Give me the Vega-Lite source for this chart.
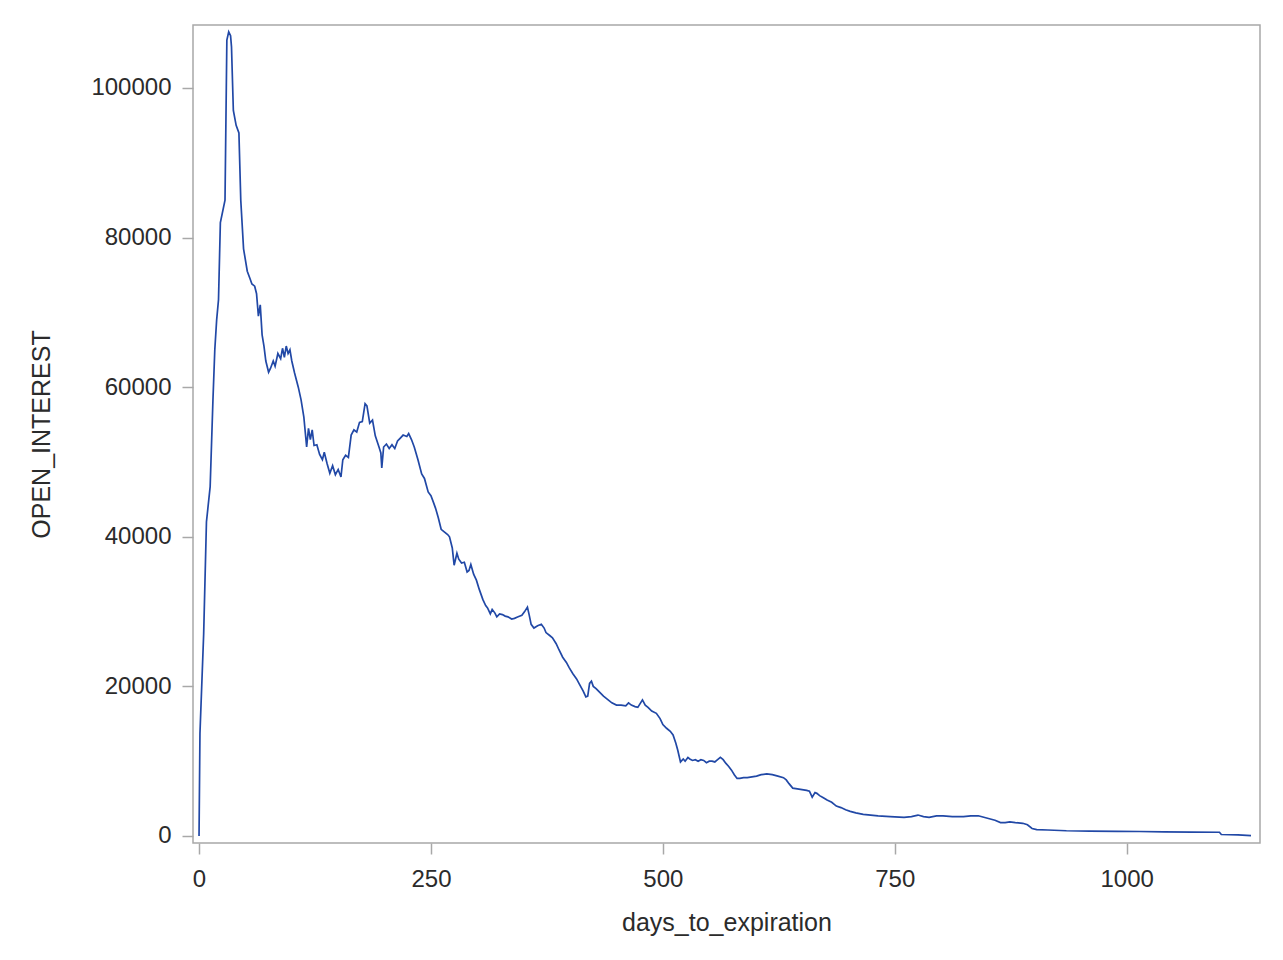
{
  "$schema": "https://vega.github.io/schema/vega-lite/v6.json",
  "autosize": "none",
  "width": 1067,
  "height": 818,
  "padding": {"left": 193, "top": 25, "right": 23, "bottom": 117},
  "background": "white",
  "config": {
    "view": {"stroke": "#a8a8a8", "strokeWidth": 1.5},
    "axis": {"grid": false, "domain": false, "tickColor": "#a8a8a8", "tickSize": 11, "tickWidth": 1.5, "labelFont": "Liberation Sans", "titleFont": "Liberation Sans", "labelColor": "#2b2b2b", "titleColor": "#2b2b2b", "labelFontSize": 24, "titleFontSize": 25, "titleFontWeight": "normal", "format": "d"}
  },
  "data": {"values": [
    {"d":0,"v":0},{"d":1,"v":13700},{"d":5,"v":27000},{"d":8,"v":42000},{"d":12,"v":46700},{"d":15,"v":58300},{"d":17,"v":65000},{"d":19,"v":69000},{"d":21,"v":71700},{"d":23,"v":82000},{"d":28,"v":85000},{"d":30,"v":106400},{"d":32,"v":107500},{"d":34,"v":107000},{"d":35,"v":105500},{"d":37,"v":97000},{"d":40,"v":95000},{"d":43,"v":94000},{"d":45,"v":85000},{"d":48,"v":78500},{"d":52,"v":75500},{"d":55,"v":74500},{"d":57,"v":73800},{"d":60,"v":73500},{"d":62,"v":72500},{"d":64,"v":69500},{"d":66,"v":71000},{"d":68,"v":67000},{"d":70,"v":65500},{"d":72,"v":63500},{"d":75,"v":62000},{"d":77,"v":62500},{"d":80,"v":63500},{"d":82,"v":62800},{"d":85,"v":64500},{"d":88,"v":63800},{"d":90,"v":65200},{"d":92,"v":64000},{"d":94,"v":65500},{"d":96,"v":64500},{"d":98,"v":65000},{"d":100,"v":63500},{"d":103,"v":61900},{"d":107,"v":60000},{"d":110,"v":58300},{"d":113,"v":56000},{"d":116,"v":52000},{"d":118,"v":54500},{"d":120,"v":53000},{"d":122,"v":54300},{"d":124,"v":52200},{"d":127,"v":52300},{"d":130,"v":51000},{"d":133,"v":50300},{"d":135,"v":51300},{"d":138,"v":49800},{"d":141,"v":48500},{"d":144,"v":49500},{"d":147,"v":48300},{"d":150,"v":49000},{"d":153,"v":48000},{"d":155,"v":50300},{"d":158,"v":50900},{"d":161,"v":50600},{"d":164,"v":53600},{"d":167,"v":54300},{"d":170,"v":54000},{"d":173,"v":55300},{"d":176,"v":55400},{"d":179,"v":57800},{"d":181,"v":57500},{"d":184,"v":55200},{"d":187,"v":55600},{"d":190,"v":53500},{"d":194,"v":52000},{"d":196,"v":51200},{"d":197,"v":49200},{"d":199,"v":52000},{"d":202,"v":52400},{"d":205,"v":51800},{"d":208,"v":52300},{"d":211,"v":51800},{"d":214,"v":52800},{"d":217,"v":53200},{"d":220,"v":53600},{"d":224,"v":53400},{"d":226,"v":53800},{"d":229,"v":53000},{"d":232,"v":52000},{"d":236,"v":50300},{"d":240,"v":48400},{"d":243,"v":47800},{"d":247,"v":46000},{"d":250,"v":45500},{"d":253,"v":44500},{"d":255,"v":43800},{"d":258,"v":42500},{"d":261,"v":41000},{"d":264,"v":40700},{"d":268,"v":40300},{"d":270,"v":40000},{"d":273,"v":38500},{"d":275,"v":36200},{"d":278,"v":37800},{"d":280,"v":37000},{"d":283,"v":36500},{"d":286,"v":36600},{"d":289,"v":35300},{"d":291,"v":35500},{"d":293,"v":36300},{"d":296,"v":35000},{"d":299,"v":34200},{"d":302,"v":33000},{"d":306,"v":31600},{"d":309,"v":30800},{"d":311,"v":30500},{"d":314,"v":29700},{"d":316,"v":30300},{"d":319,"v":29800},{"d":321,"v":29300},{"d":324,"v":29700},{"d":327,"v":29600},{"d":330,"v":29400},{"d":333,"v":29300},{"d":337,"v":29000},{"d":340,"v":29100},{"d":344,"v":29300},{"d":348,"v":29500},{"d":351,"v":30000},{"d":354,"v":30600},{"d":356,"v":29500},{"d":358,"v":28300},{"d":361,"v":27800},{"d":365,"v":28100},{"d":369,"v":28300},{"d":372,"v":27800},{"d":374,"v":27200},{"d":378,"v":26800},{"d":381,"v":26500},{"d":385,"v":25700},{"d":388,"v":24900},{"d":392,"v":23900},{"d":396,"v":23200},{"d":399,"v":22500},{"d":403,"v":21700},{"d":407,"v":21000},{"d":410,"v":20300},{"d":414,"v":19400},{"d":417,"v":18600},{"d":419,"v":18700},{"d":421,"v":20400},{"d":423,"v":20700},{"d":425,"v":20000},{"d":428,"v":19700},{"d":432,"v":19200},{"d":436,"v":18700},{"d":440,"v":18300},{"d":445,"v":17800},{"d":450,"v":17500},{"d":455,"v":17500},{"d":460,"v":17400},{"d":463,"v":17800},{"d":466,"v":17500},{"d":470,"v":17300},{"d":473,"v":17200},{"d":476,"v":17800},{"d":478,"v":18200},{"d":481,"v":17500},{"d":484,"v":17200},{"d":488,"v":16700},{"d":493,"v":16400},{"d":497,"v":15700},{"d":500,"v":14900},{"d":504,"v":14400},{"d":508,"v":14000},{"d":511,"v":13500},{"d":514,"v":12400},{"d":516,"v":11500},{"d":519,"v":9900},{"d":522,"v":10300},{"d":524,"v":10000},{"d":527,"v":10500},{"d":529,"v":10300},{"d":532,"v":10100},{"d":535,"v":10200},{"d":538,"v":10000},{"d":541,"v":10200},{"d":544,"v":10100},{"d":547,"v":9800},{"d":550,"v":10000},{"d":553,"v":10000},{"d":556,"v":9900},{"d":559,"v":10200},{"d":562,"v":10500},{"d":565,"v":10200},{"d":568,"v":9700},{"d":571,"v":9300},{"d":574,"v":8800},{"d":577,"v":8200},{"d":580,"v":7700},{"d":583,"v":7700},{"d":587,"v":7800},{"d":591,"v":7800},{"d":596,"v":7900},{"d":601,"v":8000},{"d":606,"v":8200},{"d":612,"v":8300},{"d":618,"v":8200},{"d":624,"v":8000},{"d":630,"v":7800},{"d":633,"v":7500},{"d":636,"v":7000},{"d":640,"v":6400},{"d":645,"v":6300},{"d":650,"v":6200},{"d":655,"v":6100},{"d":658,"v":6000},{"d":661,"v":5200},{"d":664,"v":5800},{"d":666,"v":5700},{"d":669,"v":5400},{"d":673,"v":5100},{"d":677,"v":4800},{"d":682,"v":4500},{"d":687,"v":4000},{"d":692,"v":3800},{"d":697,"v":3500},{"d":702,"v":3300},{"d":708,"v":3100},{"d":716,"v":2900},{"d":724,"v":2800},{"d":732,"v":2700},{"d":745,"v":2600},{"d":760,"v":2500},{"d":768,"v":2600},{"d":775,"v":2800},{"d":781,"v":2600},{"d":787,"v":2500},{"d":795,"v":2700},{"d":802,"v":2700},{"d":812,"v":2600},{"d":824,"v":2600},{"d":832,"v":2700},{"d":840,"v":2700},{"d":846,"v":2500},{"d":852,"v":2300},{"d":858,"v":2100},{"d":864,"v":1800},{"d":869,"v":1800},{"d":874,"v":1900},{"d":880,"v":1800},{"d":888,"v":1700},{"d":893,"v":1500},{"d":898,"v":1000},{"d":903,"v":850},{"d":915,"v":800},{"d":935,"v":700},{"d":960,"v":650},{"d":990,"v":620},{"d":1014,"v":600},{"d":1040,"v":560},{"d":1070,"v":530},{"d":1100,"v":500},{"d":1102,"v":200},{"d":1120,"v":150},{"d":1134,"v":50}
  ]},
  "mark": {"type": "line", "color": "#2148a6", "strokeWidth": 1.7, "clip": true},
  "encoding": {
    "x": {"field": "d", "type": "quantitative", "title": "days_to_expiration", "scale": {"domain": [-6.5, 1143.7], "nice": false, "zero": false}, "axis": {"values": [0, 250, 500, 750, 1000], "labelPadding": 13, "titlePadding": 19, "labelFlush": false}},
    "y": {"field": "v", "type": "quantitative", "title": "OPEN_INTEREST", "scale": {"domain": [-936, 108420], "nice": false, "zero": false}, "axis": {"values": [0, 20000, 40000, 60000, 80000, 100000], "labelPadding": 11, "titlePadding": 36, "labelFlush": false}}
  }
}
